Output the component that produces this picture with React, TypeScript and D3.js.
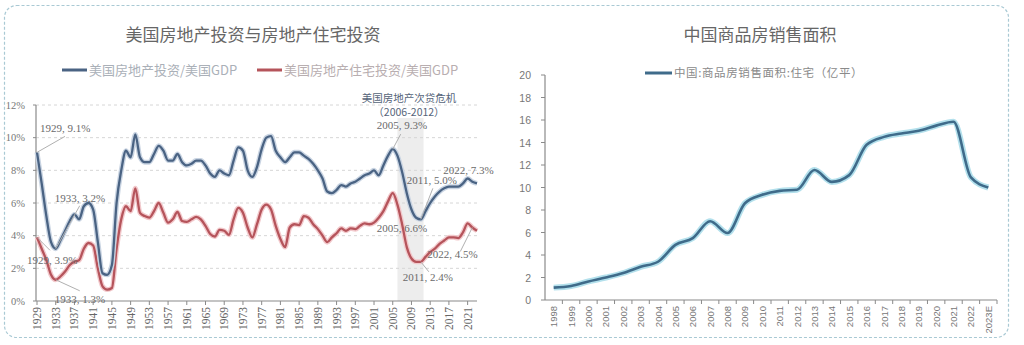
import React from "react";
import * as d3 from "d3";

// ---------- Left chart data: US real estate investment / GDP (%) ----------
const usYears: number[] = d3.range(1929, 2024);
const usInvest: number[] = [
  9.1, 7.2, 5.2, 3.6, 3.2, 3.7, 4.3, 4.9, 5.3, 5.0,
  5.8, 6.0, 5.6, 3.6, 1.7, 1.6, 2.2, 6.0, 8.0, 9.2,
  8.8, 10.2, 8.8, 8.5, 8.5, 9.0, 9.5, 9.2, 8.6, 8.6,
  9.0, 8.5, 8.3, 8.4, 8.6, 8.6, 8.3, 7.8, 7.6, 8.0,
  7.8, 7.7, 8.6, 9.4, 9.2, 8.0, 7.6, 8.2, 9.3, 10.0,
  10.1, 9.2, 8.8, 8.5, 8.8, 9.1, 9.1, 8.9, 8.7, 8.4,
  8.0, 7.5, 6.7, 6.6, 6.8, 7.1, 7.0, 7.2, 7.3, 7.5,
  7.7, 7.8, 8.0, 7.7, 8.3, 8.9, 9.3, 8.9, 7.9, 6.6,
  5.6, 5.1, 5.0, 5.5, 6.0, 6.4, 6.7, 6.9, 7.0, 7.0,
  7.0, 7.2, 7.5, 7.3, 7.2,
];
const usResidential: number[] = [
  3.9, 3.2, 2.5, 1.6, 1.3, 1.5, 1.8, 2.2, 2.4, 2.5,
  3.2, 3.55, 3.4, 2.0, 0.9, 0.7, 0.8, 3.2, 5.0, 5.8,
  5.5, 6.9, 5.4, 5.2, 5.1, 5.5, 6.0, 5.4, 4.8, 5.0,
  5.45, 4.9, 4.85, 5.0, 5.15, 5.0, 4.6, 4.1, 3.95, 4.35,
  4.3, 4.05, 5.0, 5.7, 5.4, 4.5, 3.9, 4.7, 5.6, 5.9,
  5.6, 4.6, 3.8, 3.3, 4.5, 4.7, 4.65, 5.2, 5.1, 4.7,
  4.4, 4.0, 3.6, 3.9, 4.15, 4.45, 4.3, 4.45, 4.4, 4.6,
  4.75, 4.7, 4.8, 5.1, 5.5, 6.1, 6.6, 5.9, 4.7, 3.3,
  2.6, 2.4, 2.4, 2.7, 3.0, 3.2, 3.5, 3.7, 3.9, 3.9,
  3.85, 4.2, 4.75, 4.5, 4.3,
];
const usYTicks: number[] = [0, 2, 4, 6, 8, 10, 12];
const usXTicks: number[] = d3.range(1929, 2022, 4);
const crisisRange: number[] = [2006, 2012];
const leftTitle = "美国房地产投资与房地产住宅投资";
const leftLegend: string[] = ["美国房地产投资/美国GDP", "美国房地产住宅投资/美国GDP"];
const crisisLabel: string[] = ["美国房地产次贷危机", "（2006-2012）"];

// annotations: [series index, year]
const annoPoints: [number, number][] = [
  [0, 1929], [0, 1933], [1, 1929], [1, 1933],
  [0, 2005], [1, 2005], [0, 2011], [0, 2022], [1, 2022], [1, 2011],
];

// ---------- Right chart data: China commodity housing sales area ----------
const cnYears: string[] = [
  "1998", "1999", "2000", "2001", "2002", "2003", "2004", "2005", "2006",
  "2007", "2008", "2009", "2010", "2011", "2012", "2013", "2014", "2015",
  "2016", "2017", "2018", "2019", "2020", "2021", "2022", "2023E",
];
const cnSales: number[] = [
  1.1, 1.25, 1.65, 2.0, 2.4, 2.95, 3.4, 4.9, 5.5,
  7.0, 5.95, 8.6, 9.35, 9.7, 9.8, 11.55, 10.5, 11.1,
  13.8, 14.5, 14.8, 15.05, 15.5, 15.85, 10.9, 10.0,
];
const cnYTicks: number[] = d3.range(0, 21, 2);
const rightTitle = "中国商品房销售面积";
const rightLegend = "中国:商品房销售面积:住宅（亿平）";

const CJK = "'Noto Sans CJK SC', 'Noto Sans', sans-serif";
const SERIF = "'Liberation Serif', 'DejaVu Serif', serif";
const SANS = "'Liberation Sans', Arial, sans-serif";

const BLUE = "#4a6383";
const RED = "#b5545b";
const CNBLUE = "#3f6b8a";

export default function App() {
  const W = 1024, H = 345;

  // left scales
  const lx = d3.scaleLinear().domain([1929, 2023]).range([37, 477]);
  const ly = d3.scaleLinear().domain([0, 12]).range([301, 105]);
  const lineL = d3
    .line<number>()
    .x((_, i) => lx(usYears[i]))
    .y((d) => ly(d))
    .curve(d3.curveMonotoneX);

  // right scales
  const rx = d3.scaleBand<string>().domain(cnYears).range([545, 997]);
  const ry = d3.scaleLinear().domain([0, 20]).range([300, 75]);
  const lineR = d3
    .line<number>()
    .x((_, i) => (rx(cnYears[i]) as number) + rx.bandwidth() / 2)
    .y((d) => ry(d))
    .curve(d3.curveMonotoneX);

  const series = [usInvest, usResidential];

  // label offsets (layout only)
  const annoLayout = [
    { dx: 3, dy: -20, lx: 28, ly: -16 },
    { dx: -1, dy: -47, lx: 24, ly: -43 },
    { dx: -10, dy: 27, lx: 13, ly: 13 },
    { dx: -1, dy: 23, lx: 24, ly: 11 },
    { dx: -16, dy: -20, lx: 8, ly: -15 },
    { dx: -16, dy: 39, lx: 0, ly: 0 },
    { dx: -14, dy: -35, lx: 12, ly: -31 },
    { dx: -29, dy: -8, lx: 0, ly: 0 },
    { dx: -45, dy: 30, lx: -12, ly: 24 },
    { dx: -18, dy: 19, lx: 8, ly: 10 },
  ];

  return (
    <svg
      width={W}
      height={H}
      style={{ position: "absolute", left: 0, top: 0, background: "#fff" }}
    >
      <rect
        x={4.5}
        y={5.5}
        width={1004}
        height={332}
        rx={12}
        fill="#fff"
        stroke="#a9c9d4"
        strokeWidth={1.2}
        strokeDasharray="3 2"
      />

      {/* ================= LEFT CHART ================= */}
      <text x={253} y={41} textAnchor="middle" fontFamily={CJK} fontSize={17} fill="#666">
        {leftTitle}
      </text>
      {/* legend */}
      <line x1={62} x2={87} y1={70} y2={70} stroke={BLUE} strokeWidth={3} />
      <text x={89} y={74.5} fontFamily={CJK} fontSize={13} fill="#aab0b8">
        {leftLegend[0]}
      </text>
      <line x1={257} x2={282} y1={70} y2={70} stroke={RED} strokeWidth={3} />
      <text x={284} y={74.5} fontFamily={CJK} fontSize={13} fill="#b8aeb0">
        {leftLegend[1]}
      </text>

      {/* crisis band */}
      <rect
        x={lx(crisisRange[0])}
        y={118}
        width={lx(crisisRange[1]) - lx(crisisRange[0]) - 2}
        height={ly(0) - 118}
        fill="#e8e8e8"
        opacity={0.8}
      />
      <text x={409} y={102} textAnchor="middle" fontFamily={CJK} fontSize={10.5} fill="#56657a">
        {crisisLabel[0]}
      </text>
      <text x={409} y={116} textAnchor="middle" fontFamily={CJK} fontSize={10.5} fill="#56657a">
        {crisisLabel[1]}
      </text>

      {/* grid */}
      {usYTicks.filter((t) => t > 0).map((t) => (
        <line
          key={"g" + t}
          x1={36}
          x2={477}
          y1={ly(t)}
          y2={ly(t)}
          stroke="#d6d6d6"
          strokeDasharray="3 3"
        />
      ))}
      {/* y axis */}
      <line x1={36} x2={36} y1={ly(12)} y2={ly(0)} stroke="#8a8a8a" strokeWidth={1.2} />
      {usYTicks.map((t) => (
        <g key={"ly" + t}>
          <line x1={33} x2={36} y1={ly(t)} y2={ly(t)} stroke="#8a8a8a" />
          <text
            x={25}
            y={ly(t) + 3.5}
            textAnchor="end"
            fontFamily={SERIF}
            fontSize={10.5}
            fill="#777"
          >
            {t + "%"}
          </text>
        </g>
      ))}
      {/* x axis */}
      <line x1={36} x2={477} y1={ly(0)} y2={ly(0)} stroke="#8a8a8a" strokeWidth={1.2} />
      {usXTicks.map((yr) => (
        <g key={"lx" + yr}>
          <line x1={lx(yr)} x2={lx(yr)} y1={ly(0)} y2={ly(0) + 4} stroke="#8a8a8a" />
          <text
            transform={`translate(${lx(yr) + 4},${ly(0) + 6}) rotate(-90)`}
            textAnchor="end"
            fontFamily={SERIF}
            fontSize={11.5}
            fill="#666"
          >
            {yr}
          </text>
        </g>
      ))}

      {/* lines with glow */}
      <path d={lineL(usResidential) || ""} fill="none" stroke="#f2c9cc" strokeWidth={5} strokeLinejoin="round" />
      <path d={lineL(usResidential) || ""} fill="none" stroke={RED} strokeWidth={2.3} strokeLinejoin="round" />
      <path d={lineL(usInvest) || ""} fill="none" stroke="#c9d4e2" strokeWidth={5} strokeLinejoin="round" />
      <path d={lineL(usInvest) || ""} fill="none" stroke={BLUE} strokeWidth={2.3} strokeLinejoin="round" />

      {/* annotations */}
      {annoPoints.map(([si, yr], k) => {
        const v = series[si][yr - 1929];
        const px = lx(yr);
        const py = ly(v);
        const L = annoLayout[k];
        return (
          <g key={"a" + k}>
            {(L.lx !== 0 || L.ly !== 0) && (
              <line x1={px} y1={py} x2={px + L.lx} y2={py + L.ly} stroke="#b0b0b0" strokeWidth={1} />
            )}
            <text
              x={px + L.dx}
              y={py + L.dy}
              fontFamily={SERIF}
              fontSize={11}
              fill="#6a6a6a"
            >
              {`${yr}, ${v.toFixed(1)}%`}
            </text>
          </g>
        );
      })}

      {/* ================= RIGHT CHART ================= */}
      <text x={760} y={41} textAnchor="middle" fontFamily={CJK} fontSize={17} fill="#666">
        {rightTitle}
      </text>
      <line x1={645} x2={672} y1={73} y2={73} stroke={CNBLUE} strokeWidth={3} />
      <text x={674} y={77} fontFamily={CJK} fontSize={11.5} fill="#8a8a8a" letterSpacing={0.6}>
        {rightLegend}
      </text>

      {/* y axis */}
      <line x1={545} x2={545} y1={ry(20)} y2={ry(0)} stroke="#8a8a8a" strokeWidth={1.2} />
      {cnYTicks.map((t) => (
        <g key={"ry" + t}>
          <line x1={541} x2={545} y1={ry(t)} y2={ry(t)} stroke="#8a8a8a" />
          <text
            x={531}
            y={ry(t) + 4}
            textAnchor="end"
            fontFamily={SANS}
            fontSize={10.5}
            fill="#777"
          >
            {t}
          </text>
        </g>
      ))}
      {/* x axis */}
      <line x1={545} x2={997} y1={ry(0)} y2={ry(0)} stroke="#8a8a8a" strokeWidth={1.2} />
      {cnYears.map((c) => (
        <line
          key={"rt" + c}
          x1={(rx(c) as number) + rx.bandwidth()}
          x2={(rx(c) as number) + rx.bandwidth()}
          y1={ry(0)}
          y2={ry(0) + 4}
          stroke="#8a8a8a"
        />
      ))}
      {cnYears.map((c) => (
        <text
          key={"rx" + c}
          transform={`translate(${(rx(c) as number) + rx.bandwidth() / 2 + 3.5},${ry(0) + 6}) rotate(-90)`}
          textAnchor="end"
          fontFamily={SANS}
          fontSize={9.5}
          fill="#777"
        >
          {c}
        </text>
      ))}

      <path d={lineR(cnSales) || ""} fill="none" stroke="#b3e0ec" strokeWidth={6} strokeLinejoin="round" />
      <path d={lineR(cnSales) || ""} fill="none" stroke={CNBLUE} strokeWidth={2.6} strokeLinejoin="round" />
    </svg>
  );
}
